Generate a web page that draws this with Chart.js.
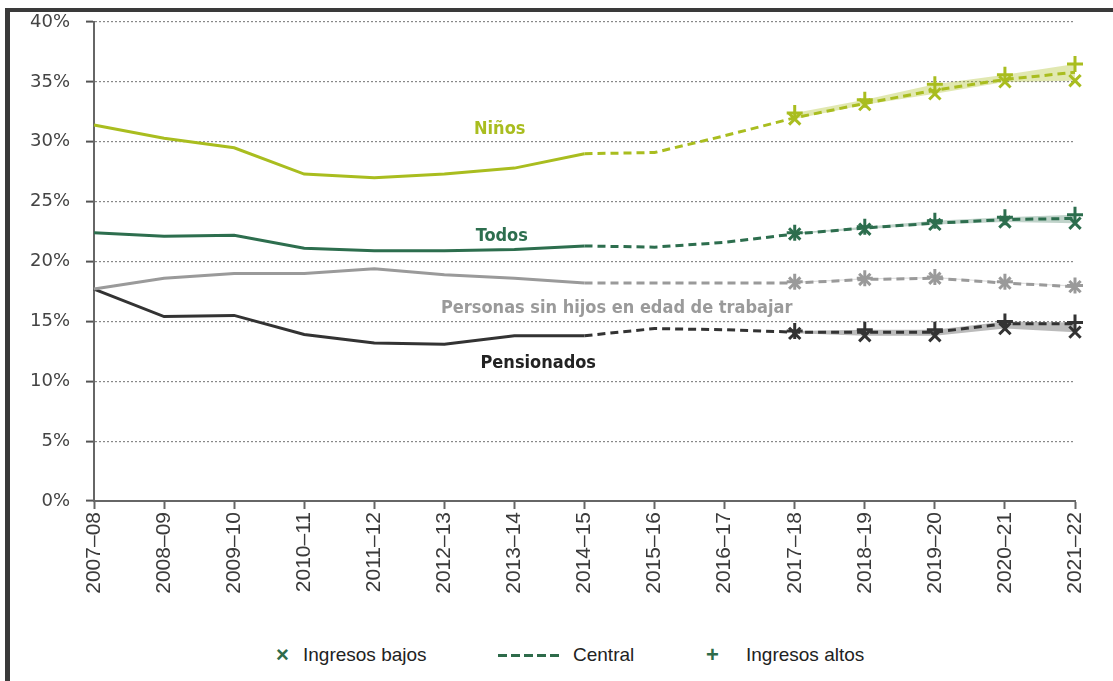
<!DOCTYPE html>
<html lang="es">
<head>
<meta charset="utf-8">
<title>Pobreza relativa por grupo</title>
<script src="https://cdn.jsdelivr.net/npm/chart.js@4/dist/chart.umd.min.js"></script>
<style>
    html, body { margin: 0; padding: 0; background: #fff; overflow: hidden; }
    #wrap { position: relative; width: 1113px; height: 681px; }
    #frame {
        position: absolute; left: 5px; top: 8px; width: 1200px; height: 800px;
        border-left: 5px solid #3a3a3a; border-top: 4px solid #3a3a3a;
    }
    #chart { position: absolute; left: 0; top: 0; }
    .lg { position: absolute; top: 642px; font: 19px "Liberation Sans", Arial, sans-serif; color: #222; line-height: 26px; }
    .sym { color: #2e6b4a; font-weight: bold; font-size: 22px; }
    #dash {
        position: absolute; left: 498px; top: 654px; width: 64px; height: 3px;
        background: repeating-linear-gradient(90deg, #2e6b4a 0 9px, transparent 9px 13px);
    }
</style>
</head>
<body>
<div id="wrap">
    <div id="frame"></div>
    <canvas id="chart" width="1113" height="600"></canvas>
    <span class="lg sym" style="left:276px">×</span>
    <span class="lg" style="left:303px">Ingresos bajos</span>
    <div id="dash"></div>
    <span class="lg" style="left:573px">Central</span>
    <span class="lg sym" style="left:706px">+</span>
    <span class="lg" style="left:746px">Ingresos altos</span>
</div>
<script>
// Años fiscales
const categories = ['2007–08', '2008–09', '2009–10', '2010–11', '2011–12', '2012–13', '2013–14',
    '2014–15', '2015–16', '2016–17', '2017–18', '2018–19', '2019–20', '2020–21', '2021–22'];

// Datos históricos (2007–08 a 2014–15)
const ninosHist = [31.4, 30.3, 29.5, 27.3, 27.0, 27.3, 27.8, 29.0];
const todosHist = [22.4, 22.1, 22.2, 21.1, 20.9, 20.9, 21.0, 21.3];
const personasHist = [17.7, 18.6, 19.0, 19.0, 19.4, 18.9, 18.6, 18.2];
const pensionadosHist = [17.7, 15.4, 15.5, 13.9, 13.2, 13.1, 13.8, 13.8];

// Proyección central (2014–15 a 2021–22)
const ninosCentral = [29.0, 29.1, 30.5, 32.0, 33.2, 34.3, 35.2, 35.8];
const todosCentral = [21.3, 21.2, 21.6, 22.3, 22.8, 23.2, 23.5, 23.6];
const personasCentral = [18.2, 18.2, 18.2, 18.2, 18.5, 18.6, 18.2, 17.9];
const pensionadosCentral = [13.8, 14.4, 14.3, 14.1, 14.1, 14.1, 14.8, 14.8];

// Escenarios de ingresos (2017–18 a 2021–22)
const ninosBajos = [31.9, 33.1, 34.0, 35.0, 35.1];
const ninosAltos = [32.4, 33.5, 34.8, 35.6, 36.5];
const todosBajos = [22.3, 22.7, 23.1, 23.3, 23.2];
const todosAltos = [22.4, 22.9, 23.4, 23.7, 23.9];
const personasBajos = [18.2, 18.5, 18.6, 18.2, 17.9];
const personasAltos = [18.3, 18.6, 18.7, 18.3, 18.0];
const pensionadosBajos = [14.0, 13.8, 13.8, 14.4, 14.1];
const pensionadosAltos = [14.2, 14.3, 14.3, 15.0, 14.9];

const yTicks = [0, 5, 10, 15, 20, 25, 30, 35, 40];

// Etiquetas de las series (posición en coordenadas de datos)
const seriesLabels = [
    { text: 'Niños', x: 5.79, y: 31.0, color: '#a9bd1f' },
    { text: 'Todos', x: 5.82, y: 22.1, color: '#2d6e4e' },
    { text: 'Personas sin hijos en edad de trabajar', x: 7.46, y: 16.1, color: '#9a9a9a' },
    { text: 'Pensionados', x: 6.34, y: 11.5, color: '#222222' }
];

function pad(values, start) {
    const out = new Array(categories.length).fill(null);
    values.forEach((v, i) => { out[start + i] = v; });
    return out;
}

function grupo(nombre, hist, central, bajos, altos, color, banda) {
    return [
        {
            label: nombre, data: pad(hist, 0),
            borderColor: color, borderWidth: 3, pointRadius: 0, tension: 0
        },
        {
            label: nombre + ' central', data: pad(central, 7),
            borderColor: color, borderWidth: 3, borderDash: [8, 5], pointRadius: 0
        },
        {
            label: nombre + ' bajos', data: pad(bajos, 10),
            borderColor: 'transparent', borderWidth: 0, backgroundColor: banda, fill: '+1',
            pointStyle: 'crossRot', pointRadius: 8, pointBorderWidth: 3, pointBorderColor: color
        },
        {
            label: nombre + ' altos', data: pad(altos, 10),
            borderColor: 'transparent', borderWidth: 0, fill: false,
            pointStyle: 'cross', pointRadius: 8, pointBorderWidth: 3, pointBorderColor: color
        }
    ];
}

const datasets = [
    ...grupo('Niños', ninosHist, ninosCentral, ninosBajos, ninosAltos, '#a9bd1f', 'rgba(169,189,31,0.35)'),
    ...grupo('Todos', todosHist, todosCentral, todosBajos, todosAltos, '#2d6e4e', 'rgba(45,110,78,0.3)'),
    ...grupo('Personas', personasHist, personasCentral, personasBajos, personasAltos, '#9a9a9a', 'rgba(150,150,150,0.3)'),
    ...grupo('Pensionados', pensionadosHist, pensionadosCentral, pensionadosBajos, pensionadosAltos, '#333333', 'rgba(60,60,60,0.35)')
];
datasets.forEach(d => { d.clip = false; d.spanGaps = false; });

const labelPlugin = {
    id: 'seriesLabels',
    afterDatasetsDraw(chart) {
        const ctx = chart.ctx;
        const xs = chart.scales.x, ys = chart.scales.y;
        ctx.save();
        ctx.font = 'bold 18px "DejaVu Sans Condensed", "Liberation Sans Narrow", sans-serif';
        ctx.textAlign = 'center';
        ctx.textBaseline = 'middle';
        seriesLabels.forEach(l => {
            ctx.fillStyle = l.color;
            ctx.fillText(l.text, xs.getPixelForValue(l.x), ys.getPixelForValue(l.y));
        });
        ctx.restore();
    }
};

new Chart(document.getElementById('chart'), {
    type: 'line',
    data: { labels: categories, datasets: datasets },
    plugins: [labelPlugin],
    options: {
        responsive: false,
        animation: false,
        layout: { padding: { left: 0, top: 22, right: 38, bottom: 0 } },
        plugins: {
            legend: { display: false },
            tooltip: { enabled: false }
        },
        scales: {
            x: {
                afterFit(scale) { scale.height = 99; },
                grid: {
                    drawOnChartArea: false, drawTicks: true, tickLength: 8,
                    tickColor: '#666', tickWidth: 2
                },
                border: { color: '#666', width: 2 },
                ticks: {
                    autoSkip: false, minRotation: 90, maxRotation: 90, padding: 3,
                    color: '#3a3a3a', font: { family: 'Liberation Sans', size: 21 }
                }
            },
            y: {
                min: 0, max: 40,
                afterFit(scale) {
                    scale.width = 94;
                    scale.paddingTop = 0;
                    scale.paddingBottom = 0;
                },
                afterBuildTicks(scale) { scale.ticks = yTicks.map(v => ({ value: v })); },
                grid: {
                    color: '#888', lineWidth: 1.2, tickLength: 8,
                    tickColor: '#555', tickWidth: 2, tickBorderDash: []
                },
                border: { color: '#666', width: 2, dash: [2, 2] },
                ticks: {
                    padding: 16, color: '#444',
                    font: { family: 'DejaVu Sans', size: 18 },
                    callback: v => v + '%'
                }
            }
        }
    }
});
</script>
</body>
</html>
